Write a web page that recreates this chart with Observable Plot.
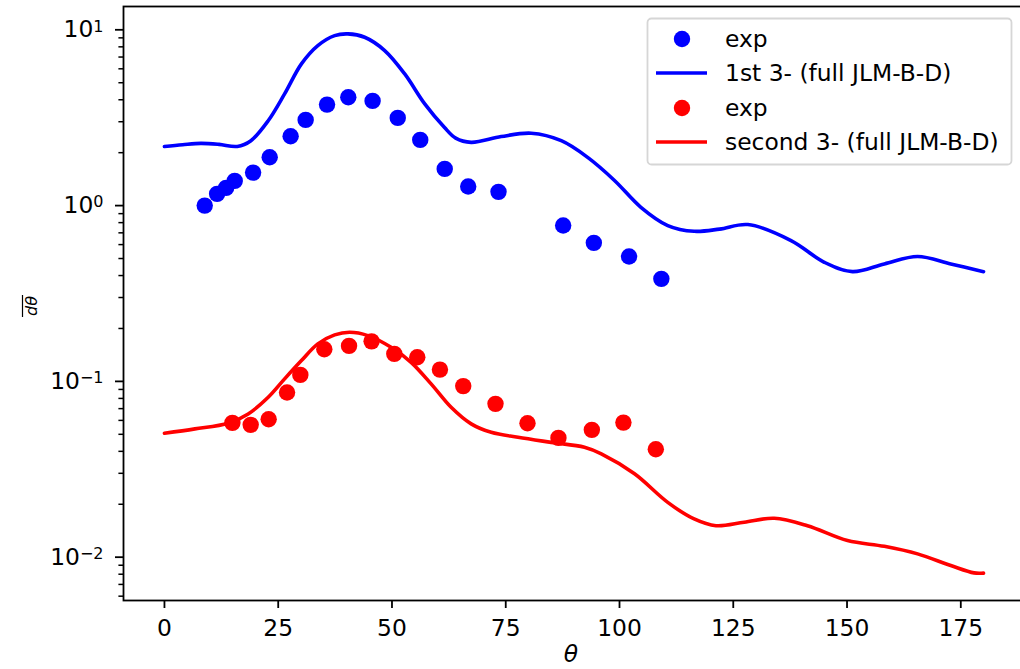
<!DOCTYPE html>
<html><head><meta charset="utf-8">
<script src="https://cdn.jsdelivr.net/npm/d3@7"></script>
<script src="https://cdn.jsdelivr.net/npm/@observablehq/plot@0.6"></script>
<style>html,body{margin:0;padding:0;background:#fff;} #chart{width:1020px;height:669px;overflow:hidden;}</style>
</head><body><div id="chart"></div>
<script>
// ---- data ----
const expBlueTheta = [8.85,11.57,13.55,15.44,19.48,23.13,27.73,31.03,35.73,40.40,45.74,51.27,56.21,61.59,66.75,73.41,87.62,94.36,102.1,109.2];
const expBlueValue = [1.00,1.166,1.261,1.382,1.541,1.883,2.479,3.072,3.754,4.130,3.941,3.154,2.364,1.617,1.283,1.197,0.770,0.614,0.513,0.383];
const blueCurveTheta = [0,4,8,12,16,19,22.8,26.4,30.1,33.7,37.4,40.3,44,48.4,52.8,57.2,61.5,64,67.4,74,80.6,87.2,93,98.9,104.7,110.6,116.4,122,128.2,137.7,145,151.2,158.2,165.5,172.8,180];
const blueCurveValue = [2.17,2.22,2.26,2.23,2.17,2.34,3.04,4.32,6.40,8.13,9.27,9.48,9.07,7.62,5.61,3.79,2.79,2.42,2.29,2.47,2.58,2.34,1.88,1.39,0.978,0.77,0.714,0.735,0.78,0.632,0.476,0.421,0.466,0.513,0.466,0.421];
const expRedTheta = [14.93,18.95,22.90,26.94,29.86,35.13,40.56,45.52,50.51,55.56,60.54,65.66,72.75,79.78,86.58,93.92,100.86,107.98];
const expRedValue = [0.0581,0.0566,0.0609,0.0864,0.1089,0.1523,0.1592,0.1690,0.1434,0.1371,0.1167,0.0940,0.0745,0.0578,0.0477,0.0530,0.0583,0.0411];
const redCurveTheta = [0,6.7,14,18.4,22.8,26.4,30.1,33.7,37.4,40.7,44.7,49.8,54.2,58.6,63,67.4,71.8,77.7,85,92.3,96,103.3,110.6,116.4,121.2,127.4,134,141.3,150.1,158.2,165.5,172.8,177.9,180];
const redCurveValue = [0.0507,0.0537,0.0578,0.0653,0.0812,0.1033,0.1313,0.1634,0.1838,0.1902,0.1822,0.1563,0.1284,0.0968,0.0712,0.0573,0.0513,0.0481,0.0450,0.0422,0.0387,0.0298,0.0205,0.0165,0.0151,0.0158,0.01665,0.0151,0.01243,0.01153,0.01044,0.00896,0.00814,0.00812];
const xTicks = [0,25,50,75,100,125,150,175];
const yMajorTicks = [0.01,0.1,1,10];
const yMajorExp = ["\u22122","\u22121","0","1"];
const legendLabels = ["exp","1st 3- (full JLM-B-D)","exp","second 3- (full JLM-B-D)"];
const seriesColors = ["#0000ff","#ff0000"];

const zip = (xs, ys) => xs.map((x, i) => ({theta: x, value: ys[i]}));
const expBlue = zip(expBlueTheta, expBlueValue);
const blueCurve = zip(blueCurveTheta, blueCurveValue);
const expRed = zip(expRedTheta, expRedValue);
const redCurve = zip(redCurveTheta, redCurveValue);

const yMinor = [];
for (const d of [0.001,0.01,0.1,1]) for (let k = 2; k <= 9; k++) {
  const v = +(d*k).toPrecision(3);
  if (v >= 0.00567 && v <= 13.57) yMinor.push(v);
}

const FS = 23.4;
const chart = Plot.plot({
  width: 1020, height: 669,
  marginLeft: 123, marginRight: -4, marginTop: 6, marginBottom: 69,
  style: {fontFamily: "DejaVu Sans", fontSize: FS + "px", color: "black", background: "white"},
  x: {domain: [-9, 189]},
  y: {type: "log", domain: [0.00567, 13.57]},
  marks: [
    Plot.dot(expBlue, {x: "theta", y: "value", r: 8.2, fill: seriesColors[0], stroke: null}),
    Plot.line(blueCurve, {x: "theta", y: "value", stroke: seriesColors[0], strokeWidth: 3.6, curve: "catmull-rom"}),
    Plot.dot(expRed, {x: "theta", y: "value", r: 8.2, fill: seriesColors[1], stroke: null}),
    Plot.line(redCurve, {x: "theta", y: "value", stroke: seriesColors[1], strokeWidth: 3.6, curve: "catmull-rom"}),
    Plot.frame({stroke: "black", strokeWidth: 1.8}),
    Plot.axisX({ticks: xTicks, tickSize: 8, tickPadding: 11, strokeWidth: 1.8, fontSize: FS, label: null, tickFormat: d => String(d)}),
    Plot.axisY({ticks: yMinor, tickSize: 4.6, strokeWidth: 1.5, text: null, label: null}),
    Plot.axisY({ticks: yMajorTicks, tickSize: 8, strokeWidth: 1.8, text: null, label: null}),
    Plot.text(yMajorTicks, {y: d => d, text: d => "10^" + yMajorExp[yMajorTicks.indexOf(d)],
      frameAnchor: "left", dx: -20, textAnchor: "end", fontSize: FS, fill: "black"})
  ]
});
document.getElementById("chart").appendChild(chart);

const svg = d3.select(chart);
// superscript tick labels
svg.selectAll("text").each(function() {
  const t = d3.select(this);
  const s = t.text();
  const m = /^10\^(.+)$/.exec(s);
  if (m) {
    t.text("10");
    t.append("tspan").attr("dy", "-0.36em").attr("font-size", "16px").text(m[1]);
  }
});

// axis labels
svg.append("text").attr("x", 571).attr("y", 662).attr("text-anchor", "middle")
  .attr("font-family", "DejaVu Sans").attr("font-style", "italic").attr("font-size", FS).text("\u03b8");
const yl = svg.append("g").attr("transform", "translate(37,306) rotate(-90)");
yl.append("text").attr("x", 0).attr("y", 0).attr("text-anchor", "middle")
  .attr("font-family", "DejaVu Sans").attr("font-style", "italic").attr("font-size", 16).text("d\u03b8");
yl.append("line").attr("x1", -11).attr("x2", 11).attr("y1", -14.5).attr("y2", -14.5).attr("stroke", "black").attr("stroke-width", 1.2);

// legend
const lg = svg.append("g");
lg.append("rect").attr("x", 647.5).attr("y", 18.5).attr("width", 364).attr("height", 146).attr("rx", 4)
  .attr("fill", "white").attr("fill-opacity", 0.8).attr("stroke", "#d6d6d6").attr("stroke-width", 1.8);
const rows = [39, 73, 108, 142];
legendLabels.forEach((lab, i) => {
  const c = seriesColors[Math.floor(i / 2)];
  const y = rows[i];
  if (i % 2 === 0) lg.append("circle").attr("cx", 682).attr("cy", y).attr("r", 8.2).attr("fill", c);
  else lg.append("line").attr("x1", 656).attr("x2", 707).attr("y1", y).attr("y2", y).attr("stroke", c).attr("stroke-width", 3.6);
  lg.append("text").attr("x", 725).attr("y", y).attr("dy", "0.35em").attr("text-anchor", "start")
    .attr("font-family", "DejaVu Sans").attr("font-size", FS).attr("fill", "black").text(lab);
});
</script>
</body></html>
